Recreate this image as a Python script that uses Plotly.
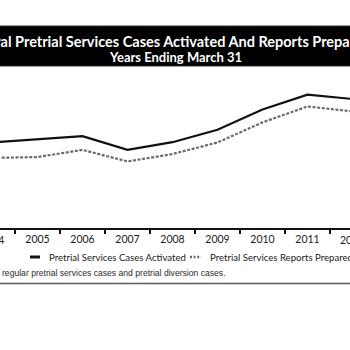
import plotly.graph_objects as go

years = ["2004", "2005", "2006", "2007", "2008", "2009", "2010", "2011", "2012"]
cases_activated = [96100, 97200, 98400, 93400, 96200, 100700, 108100, 113500, 111900]
reports_prepared = [90500, 90800, 93400, 89200, 91900, 96100, 103400, 109200, 107400]

title_line1 = "Federal Pretrial Services Cases Activated And Reports Prepared"
title_line2 = "Years Ending March 31"
legend_labels = ["Pretrial Services Cases Activated", "Pretrial Services Reports Prepared"]
footnote = "regular pretrial services cases and pretrial diversion cases."

W, H = 350, 350
TOP, BOT = 70, 228
PH = BOT - TOP
CAT_W = 45.0
X0 = 0.1667  # category index at left edge


def pxx(p):
    return p / W


def pyy(p):
    return (BOT - p) / PH


fig = go.Figure()
fig.add_trace(go.Scatter(x=years, y=cases_activated, mode="lines",
                         line=dict(color="#111111", width=2.2),
                         name=legend_labels[0], showlegend=False))
fig.add_trace(go.Scatter(x=years, y=reports_prepared, mode="lines",
                         line=dict(color="#6a6a6a", width=2.2, dash="3px,1.6px"),
                         name=legend_labels[1], showlegend=False))

shapes = [
    dict(type="rect", xref="paper", yref="paper", x0=-0.01, x1=1.01,
         y0=pyy(66), y1=pyy(26), fillcolor="#000000", line=dict(color="#333333", width=1), layer="above"),
    dict(type="line", xref="paper", yref="paper", x0=pxx(30), x1=pxx(40),
         y0=pyy(257), y1=pyy(257), line=dict(color="#111111", width=3)),
    dict(type="line", xref="paper", yref="paper", x0=pxx(190), x1=pxx(201),
         y0=pyy(257), y1=pyy(257), line=dict(color="#6a6a6a", width=2.5, dash="2px,1.6px")),
    dict(type="line", xref="paper", yref="paper", x0=-0.01, x1=1.01,
         y0=pyy(283.5), y1=pyy(283.5), line=dict(color="#5a5a5a", width=1.5)),
]

tick_font = dict(family="Lato", size=10.5, color="#1a1a1a")

annotations = [
    dict(text="<b>" + title_line1 + "</b>", xref="paper", yref="paper", x=pxx(167), y=pyy(41.5),
         xanchor="center", yanchor="middle", showarrow=False,
         font=dict(family="Lato", size=14.5, color="#ffffff")),
    dict(text="<b>" + title_line2 + "</b>", xref="paper", yref="paper", x=pxx(175), y=pyy(56.5),
         xanchor="center", yanchor="middle", showarrow=False,
         font=dict(family="Lato", size=13, color="#ffffff")),
    dict(text=legend_labels[0], xref="paper", yref="paper", x=pxx(47), y=pyy(257),
         xanchor="left", yanchor="middle", showarrow=False,
         font=dict(family="Lato", size=9.6, color="#1a1a1a")),
    dict(text=legend_labels[1], xref="paper", yref="paper", x=pxx(208), y=pyy(257),
         xanchor="left", yanchor="middle", showarrow=False,
         font=dict(family="Lato", size=9.6, color="#1a1a1a")),
    dict(text=footnote, xref="paper", yref="paper", x=0, y=pyy(272.5),
         xanchor="left", yanchor="middle", showarrow=False,
         font=dict(family="Liberation Sans, Arial", size=8.6, color="#2a2a2a")),
]

# partial tick labels at the clipped edges (first and last categories)
for idx in (0, len(years) - 1):
    cx = (idx - X0) * CAT_W
    annotations.append(dict(text=years[idx], xref="paper", yref="paper", x=pxx(cx), y=pyy(240),
                            xanchor="center", yanchor="middle", showarrow=False, font=tick_font))

fig.update_layout(
    width=W, height=H,
    margin=dict(l=0, r=0, t=TOP, b=H - BOT, pad=0),
    paper_bgcolor="#ffffff", plot_bgcolor="#ffffff",
    shapes=shapes, annotations=annotations,
    showlegend=False,
    xaxis=dict(type="category", range=[X0, X0 + W / CAT_W], tickson="boundaries",
               ticks="outside", ticklen=4, tickwidth=2, tickcolor="#111111",
               showline=True, linewidth=2, linecolor="#111111", showgrid=False,
               zeroline=False, tickfont=tick_font, fixedrange=True),
    yaxis=dict(range=[65000, 122450], visible=False, showgrid=False, zeroline=False,
               fixedrange=True),
)

fig.write_html("out.html", config={"displayModeBar": False})
